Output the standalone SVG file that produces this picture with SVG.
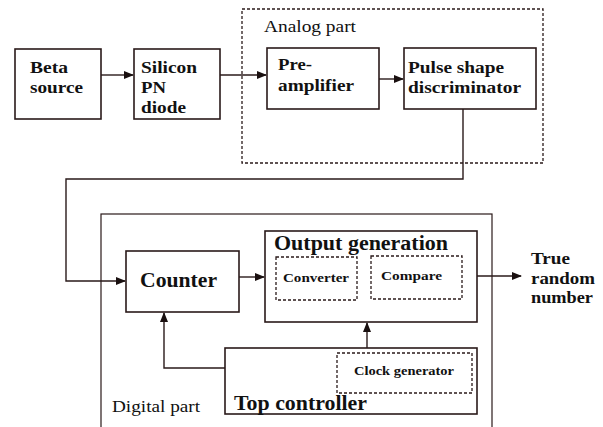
<svg xmlns="http://www.w3.org/2000/svg" width="603" height="427" viewBox="0 0 603 427">
<defs>
<marker id="ah" markerWidth="10" markerHeight="8" refX="9" refY="4" orient="auto" markerUnits="userSpaceOnUse">
<path d="M0,0 L10,4 L0,8 Z" fill="#1a1010"/>
</marker>
<style>
.box{fill:#fff;stroke:#2a1a1a;stroke-width:1.6}
.dash{fill:none;stroke:#2a1a1a;stroke-width:1.3;stroke-dasharray:3,2}
.frame{fill:none;stroke:#2a1a1a;stroke-width:1.2}
.ln{fill:none;stroke:#2a1a1a;stroke-width:1.4}
text{font-family:'Liberation Serif','Times New Roman','DejaVu Serif',serif;fill:#111}
.b{font-weight:bold}
</style>
</defs>
<rect width="603" height="427" fill="#fff"/>
<g id="analog">
<rect class="dash" x="242" y="9" width="301" height="154"/>
<text x="264" y="32" font-size="16" textLength="92" lengthAdjust="spacingAndGlyphs">Analog part</text>
</g>
<g id="digital">
<rect class="frame" x="101" y="214" width="391" height="220"/>
<text x="112" y="412" font-size="16" textLength="88" lengthAdjust="spacingAndGlyphs">Digital part</text>
</g>
<g id="connectors">
<path class="ln" d="M101,75 H133" marker-end="url(#ah)"/>
<path class="ln" d="M220,75 H266" marker-end="url(#ah)"/>
<path class="ln" d="M379,79 H403" marker-end="url(#ah)"/>
<path class="ln" d="M463,109 V179 H66 V281 H125" marker-end="url(#ah)"/>
<path class="ln" d="M239,277 H264" marker-end="url(#ah)"/>
<path class="ln" d="M477,276 H521" marker-end="url(#ah)"/>
<path class="ln" d="M367,348 V323" marker-end="url(#ah)"/>
<path class="ln" d="M225,368 H164 V313" marker-end="url(#ah)"/>
</g>
<g id="beta">
<rect class="box" x="15" y="49" width="86" height="70"/>
<text class="b" x="30" y="73" font-size="17" textLength="38" lengthAdjust="spacingAndGlyphs">Beta</text>
<text class="b" x="30" y="93" font-size="17" textLength="53" lengthAdjust="spacingAndGlyphs">source</text>
</g>
<g id="silicon">
<rect class="box" x="134" y="49" width="86" height="70"/>
<text class="b" x="141" y="73" font-size="17" textLength="56" lengthAdjust="spacingAndGlyphs">Silicon</text>
<text class="b" x="141" y="93" font-size="17" textLength="25" lengthAdjust="spacingAndGlyphs">PN</text>
<text class="b" x="141" y="113" font-size="17" textLength="45" lengthAdjust="spacingAndGlyphs">diode</text>
</g>
<g id="preamp">
<rect class="box" x="267" y="48" width="112" height="61"/>
<text class="b" x="278" y="70" font-size="17" textLength="34" lengthAdjust="spacingAndGlyphs">Pre-</text>
<text class="b" x="278" y="91" font-size="17" textLength="76" lengthAdjust="spacingAndGlyphs">amplifier</text>
</g>
<g id="pulse">
<rect class="box" x="404" y="48" width="132" height="61"/>
<text class="b" x="408" y="73" font-size="17" textLength="96" lengthAdjust="spacingAndGlyphs">Pulse shape</text>
<text class="b" x="408" y="93" font-size="17" textLength="113" lengthAdjust="spacingAndGlyphs">discriminator</text>
</g>
<g id="counter">
<rect class="box" x="126" y="251" width="113" height="61"/>
<text class="b" x="140" y="287" font-size="21" textLength="77" lengthAdjust="spacingAndGlyphs">Counter</text>
</g>
<g id="output">
<rect class="box" x="265" y="231" width="212" height="91"/>
<text class="b" x="274" y="250" font-size="20" textLength="174" lengthAdjust="spacingAndGlyphs">Output generation</text>
<g id="converter">
<rect class="dash" x="276" y="257" width="81" height="43"/>
<text class="b" x="283" y="282" font-size="13" textLength="66" lengthAdjust="spacingAndGlyphs">Converter</text>
</g>
<g id="compare">
<rect class="dash" x="371" y="256" width="91" height="43"/>
<text class="b" x="381" y="280" font-size="13" textLength="61" lengthAdjust="spacingAndGlyphs">Compare</text>
</g>
</g>
<g id="topctrl">
<rect class="box" x="225" y="348" width="252" height="66"/>
<text class="b" x="234" y="410" font-size="20" textLength="133" lengthAdjust="spacingAndGlyphs">Top controller</text>
<g id="clock">
<rect class="dash" x="337" y="353" width="135" height="40"/>
<text class="b" x="354" y="375" font-size="12" textLength="100" lengthAdjust="spacingAndGlyphs">Clock generator</text>
</g>
</g>
<g id="trn">
<text class="b" x="531" y="264" font-size="17" textLength="39" lengthAdjust="spacingAndGlyphs">True</text>
<text class="b" x="531" y="284" font-size="17" textLength="64" lengthAdjust="spacingAndGlyphs">random</text>
<text class="b" x="531" y="303" font-size="17" textLength="62" lengthAdjust="spacingAndGlyphs">number</text>
</g>
</svg>
